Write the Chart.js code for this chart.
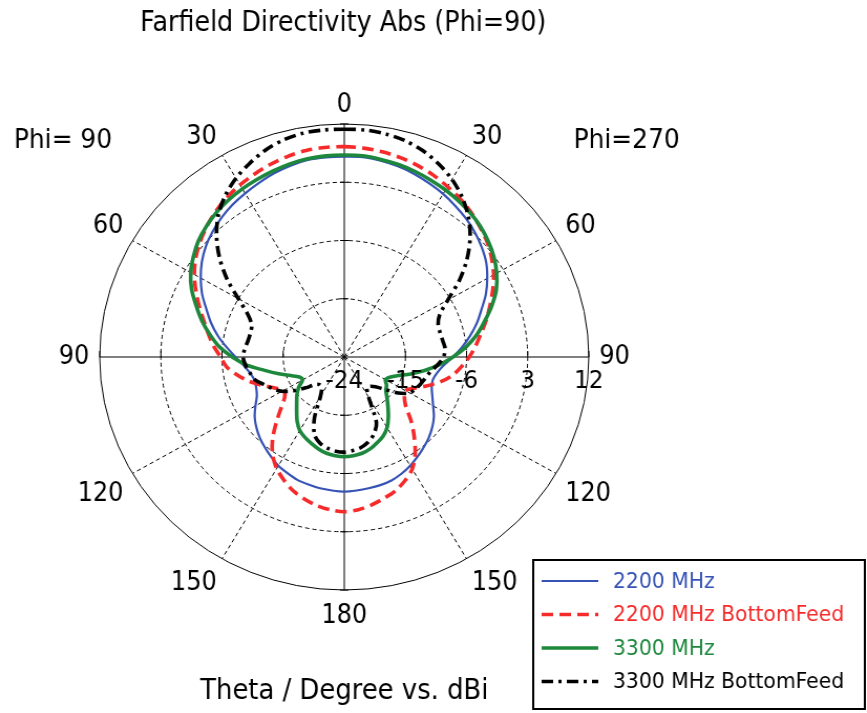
<!DOCTYPE html>
<html>
<head>
<meta charset="utf-8">
<title>Farfield Directivity Abs (Phi=90)</title>
<script src="https://cdn.jsdelivr.net/npm/chart.js@4.4.1/dist/chart.umd.min.js"></script>
<style>
  html, body { margin: 0; padding: 0; background: #fff; overflow: hidden; }
  /* the plot is a little wider than tall, so the whole canvas is stretched in x */
  #wrap { width: 826px; height: 713px; transform: scaleX(1.0496); transform-origin: 0 0; }
</style>
</head>
<body>
<div id="wrap"><canvas id="farfieldChart" width="826" height="713"></canvas></div>
<script>
/*******************************************************
 *  Farfield directivity, Phi=90 / Phi=270 cut (dBi)
 *******************************************************/

// theta, degrees, for both half cuts
const thetaDeg = [0, 5, 10, 15, 20, 25, 30, 35, 40, 45, 50, 55, 60, 65, 70, 75, 80, 85, 90,
   95, 100, 105, 110, 115, 120, 125, 130, 135, 140, 145, 150, 155, 160, 165, 170, 175, 180];

// 2200 MHz
const d2200_phi90 = [6.95, 6.95, 6.9, 6.6, 6.2, 5.7, 5.2, 4.7, 4.1, 3.4, 2.6, 1.6, 0.4, -0.9, -2.4, -3.7, -5.1, -6.6, -8.0,
   -9.1, -9.9, -10.3, -10.2, -9.8, -8.9, -7.9, -7.1, -6.4, -5.8, -5.2, -4.6, -4.2, -3.8, -3.6, -3.4, -3.3, -3.2];
const d2200_phi270 = [6.95, 7.0, 6.8, 6.5, 6.1, 5.6, 5.1, 4.5, 3.9, 3.2, 2.4, 1.5, 0.3, -1.0, -2.5, -3.8, -5.2, -6.6, -8.0,
   -9.3, -10.1, -10.5, -10.3, -9.7, -8.9, -7.9, -7.1, -6.4, -5.8, -5.2, -4.6, -4.1, -3.7, -3.5, -3.4, -3.3, -3.2];

// 2200 MHz BottomFeed
const d2200bf_phi90 = [8.5, 8.5, 8.4, 8.1, 7.7, 7.2, 6.7, 6.1, 5.4, 4.6, 3.7, 2.7, 1.5, 0.1, -1.3, -2.6, -3.7, -4.7, -5.8,
   -6.6, -8.0, -9.5, -11.2, -12.7, -13.7, -13.3, -11.9, -9.9, -7.6, -5.6, -4.1, -3.0, -2.0, -1.3, -0.7, -0.3, -0.1];
const d2200bf_phi270 = [8.5, 8.4, 8.2, 7.9, 7.5, 7.0, 6.4, 5.8, 5.1, 4.3, 3.5, 2.5, 1.4, 0.1, -1.2, -2.4, -3.6, -4.6, -5.6,
   -6.7, -7.8, -9.3, -11.0, -12.6, -13.6, -13.2, -12.2, -10.1, -8.0, -5.8, -4.0, -2.9, -2.0, -1.4, -0.8, -0.3, -0.1];

// 3300 MHz
const d3300_phi90 = [7.2, 7.2, 7.1, 6.9, 6.6, 6.3, 6.0, 5.65, 5.2, 4.65, 4.0, 3.1, 2.1, 0.8, -0.8, -2.3, -3.9, -5.5, -7.5,
   -9.6, -12.1, -14.0, -15.6, -16.7, -16.9, -15.8, -14.9, -14.1, -13.1, -11.9, -10.9, -10.3, -9.8, -9.3, -8.9, -8.7, -8.6];
const d3300_phi270 = [7.2, 7.2, 7.0, 6.8, 6.5, 6.15, 5.8, 5.4, 4.95, 4.4, 3.7, 2.9, 1.9, 0.7, -0.9, -2.6, -4.2, -6.0, -8.0,
   -10.0, -12.0, -13.9, -15.6, -16.6, -17.0, -16.4, -16.0, -15.1, -14.0, -12.7, -11.4, -10.5, -9.9, -9.3, -8.9, -8.7, -8.6];

// 3300 MHz BottomFeed
const d3300bf_phi90 = [11.2, 11.2, 11.1, 10.7, 10.0, 9.0, 7.9, 6.5, 4.8, 2.6, 0.0, -2.9, -6.0, -8.3, -9.5, -9.7, -9.6, -9.3, -9.1,
   -9.4, -9.9, -10.4, -11.5, -12.4, -13.4, -14.9, -16.6, -18.0, -18.4, -18.2, -17.0, -13.6, -11.2, -10.2, -9.7, -9.4, -9.3];
const d3300bf_phi270 = [11.2, 11.2, 11.0, 10.6, 9.9, 8.9, 7.7, 6.2, 4.4, 2.2, -0.4, -3.3, -6.4, -8.5, -9.3, -9.4, -9.3, -9.1, -9.4,
   -10.2, -11.1, -11.6, -12.0, -12.4, -12.9, -14.3, -16.2, -17.5, -18.1, -18.2, -16.8, -12.8, -11.3, -10.4, -9.8, -9.5, -9.3];

// dBi rings
const ringTicks = [-24, -15, -6, 3, 12];

// radar goes clockwise from the top: Phi=270 down the right side, Phi=90 back up the left
function ring(phi270, phi90) {
   return phi270.concat(phi90.slice(1, phi90.length - 1).reverse());
}

const ringLabels = ring(thetaDeg, thetaDeg);

const FONT = '"DejaVu Sans", Verdana, sans-serif';

// narrow sans text, drawn squeezed a bit in x
function label(ctx, str, x, y, size, color, align) {
   ctx.save();
   ctx.font = size + "px " + FONT;
   ctx.fillStyle = color || "#000";
   ctx.textAlign = align || "center";
   ctx.textBaseline = "middle";
   ctx.translate(x, y);
   ctx.scale(0.88, 1);
   ctx.fillText(str, 0, 0);
   ctx.restore();
}

function labelWidth(ctx, str, size) {
   ctx.save();
   ctx.font = size + "px " + FONT;
   const w = ctx.measureText(str).width * 0.88;
   ctx.restore();
   return w;
}

const polarDecor = {
   id: "polarDecor",
   afterDraw(chart) {
      const ctx = chart.ctx;
      const r = chart.scales.r;
      const cx = r.xCenter;
      const cy = r.yCenter;

      // little marks where the rings cross the axes
      ctx.save();
      ctx.strokeStyle = "#000";
      ctx.lineWidth = 1;
      r.ticks.forEach(function (t) {
         const d = r.getDistanceFromCenterForValue(t.value);
         if (d <= 0) return;
         ctx.beginPath();
         ctx.moveTo(cx + d, cy);
         ctx.lineTo(cx + d, cy - 6);
         ctx.moveTo(cx - d, cy);
         ctx.lineTo(cx - d, cy - 6);
         ctx.moveTo(cx - 4, cy - d);
         ctx.lineTo(cx + 4, cy - d);
         ctx.moveTo(cx - 4, cy + d);
         ctx.lineTo(cx + 4, cy + d);
         ctx.stroke();
      });
      ctx.restore();

      // dBi values along the horizontal axis
      r.ticks.forEach(function (t) {
         const d = r.getDistanceFromCenterForValue(t.value);
         label(ctx, String(t.value), cx + d, cy + 24, 25);
      });

      // theta every 30 degrees round the outside
      chart.data.labels.forEach(function (th, i) {
         if (th % 30 !== 0) return;
         const txt = String(th);
         const p = r.getPointPosition(i, r.drawingArea + 10);
         const a = r.getIndexAngle(i);
         const s = Math.sin(a);
         const c = Math.cos(a);
         const w = labelWidth(ctx, txt, 26);
         let x = p.x;
         let y = p.y;
         if (Math.abs(s) > 0.01) x += Math.sign(s) * w / 2;
         if (c > 0.01) y -= 9;
         if (c < -0.01) y += 16;
         label(ctx, txt, x, y, 26);
      });

      label(ctx, "Farfield Directivity Abs (Phi=90)", 327, 24, 27.5);
      label(ctx, "Phi= 90", 60, 141, 27);
      label(ctx, "Phi=270", 597, 141, 27);
      label(ctx, "Theta / Degree vs. dBi", 328, 692, 28);

      // legend box
      const bx = 508, by = 560, bw = 316, bh = 149;
      ctx.save();
      ctx.strokeStyle = "#000";
      ctx.lineWidth = 2;
      ctx.strokeRect(bx, by, bw, bh);
      ctx.restore();

      chart.data.datasets.forEach(function (ds, k) {
         const y = 581 + k * 33.5;
         ctx.save();
         ctx.strokeStyle = ds.borderColor;
         ctx.lineWidth = ds.borderWidth;
         ctx.setLineDash(ds.borderDash || []);
         ctx.beginPath();
         ctx.moveTo(516, y);
         ctx.lineTo(570, y);
         ctx.stroke();
         ctx.restore();
         label(ctx, ds.label, 584, y + 1, 22, ds.borderColor, "left");
      });
   },
};

const farfieldchart = document.getElementById("farfieldChart").getContext("2d");

const farfieldChart = new Chart(farfieldchart, {
   type: "radar",
   data: {
      labels: ringLabels,
      datasets: [
         {
            label: "2200 MHz",
            data: ring(d2200_phi270, d2200_phi90),
            borderColor: "#3552b4",
            borderWidth: 2.2,
            order: 4,
         },
         {
            label: "2200 MHz BottomFeed",
            data: ring(d2200bf_phi270, d2200bf_phi90),
            borderColor: "#f52a2a",
            borderWidth: 3.6,
            borderDash: [11, 6],
            order: 3,
         },
         {
            label: "3300 MHz",
            data: ring(d3300_phi270, d3300_phi90),
            borderColor: "#1d873c",
            borderWidth: 3.6,
            order: 2,
         },
         {
            label: "3300 MHz BottomFeed",
            data: ring(d3300bf_phi270, d3300bf_phi90),
            borderColor: "#000000",
            borderWidth: 3.6,
            borderDash: [11, 5, 3, 5],
            order: 1,
         },
      ],
   },
   options: {
      responsive: false,
      animation: false,
      events: [],
      layout: {
         padding: { left: 95, right: 265, top: 124, bottom: 123 },
      },
      elements: {
         point: { radius: 0 },
         line: { tension: 0.3, fill: false, borderJoinStyle: "round" },
      },
      scales: {
         r: {
            min: ringTicks[0],
            max: ringTicks[ringTicks.length - 1],
            ticks: { stepSize: 9, display: false },
            pointLabels: { display: false },
            grid: { circular: true, color: "#000", lineWidth: 1 },
            border: {
               dash: function (c) {
                  return c.index === ringTicks.length - 1 ? [] : [4, 3];
               },
            },
            angleLines: {
               color: "#000",
               lineWidth: function (c) {
                  return c.index % 6 === 0 ? 1 : 0;
               },
               borderDash: function (c) {
                  return c.index % 18 === 0 ? [] : [4, 3];
               },
            },
         },
      },
      plugins: {
         legend: { display: false },
         tooltip: { enabled: false },
      },
   },
   plugins: [polarDecor],
});
</script>
</body>
</html>
